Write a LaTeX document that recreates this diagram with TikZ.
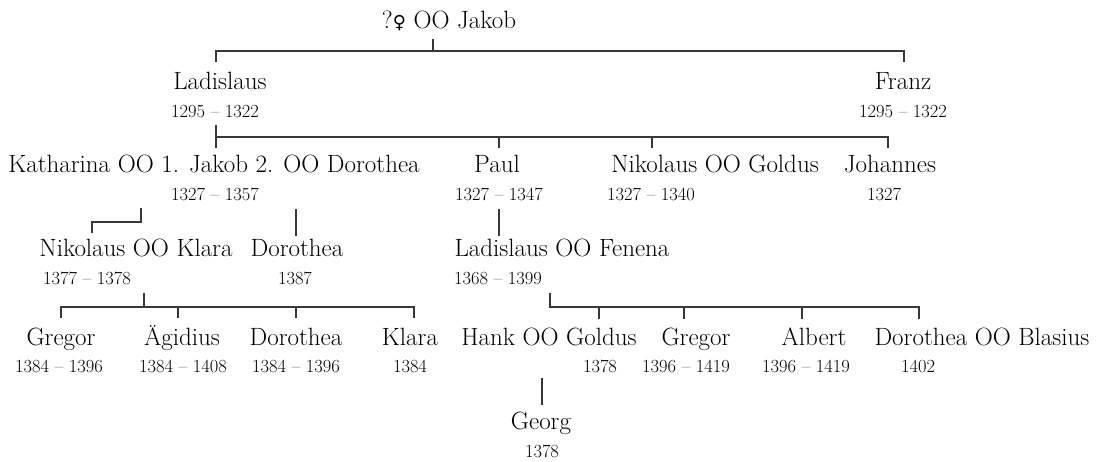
\documentclass[tikz,border=0pt]{standalone}
\usepackage{fontspec}
\newfontfamily\symfont{DejaVu Sans}
\begin{document}
\begin{tikzpicture}[x=1pt,y=-1pt,
  nm/.style={font=\fontsize{25}{28}\selectfont, inner sep=0pt, anchor=base, text=black},
  yr/.style={font=\fontsize{18.5}{21}\selectfont, inner sep=0pt, anchor=base, text=black},
  ln/.style={line width=1.3pt, draw=black!78}]
\useasboundingbox (0,0) rectangle (1100,461);
% ---------- row 0
\node[nm] (jakob0) at (449,28) {?{\symfont\fontsize{18}{22}\selectfont ♀} OO Jakob};
% ---------- row 1
\node[nm] (lad1) at (220,89) {Ladislaus};
\node[yr] (lad1y) at (215,117) {1295 – 1322};
\node[nm] (franz) at (903,89) {Franz};
\node[yr] (franzy) at (903,117) {1295 – 1322};
% ---------- row 2
\node[nm] (kat) at (214,172) {Katharina OO 1. Jakob 2. OO Dorothea};
\node[yr] (katy) at (215,200) {1327 – 1357};
\node[nm] (paul) at (497,172) {Paul};
\node[yr] (pauly) at (499,200) {1327 – 1347};
\node[nm] (nikg) at (715,172) {Nikolaus OO Goldus};
\node[yr] (nikgy) at (651,200) {1327 – 1340};
\node[nm] (joh) at (890,172) {Johannes};
\node[yr] (johy) at (884,200) {1327};
% ---------- row 3
\node[nm] (nikk) at (136,256) {Nikolaus OO Klara};
\node[yr] (nikky) at (87,284) {1377 – 1378};
\node[nm] (dor3) at (297,256) {Dorothea};
\node[yr] (dor3y) at (295,284) {1387};
\node[nm] (ladf) at (562,256) {Ladislaus OO Fenena};
\node[yr] (ladfy) at (498,284) {1368 – 1399};
% ---------- row 4
\node[nm] (greg1) at (61,345) {Gregor};
\node[yr] (greg1y) at (59,372) {1384 – 1396};
\node[nm] (aeg) at (182,345) {Ägidius};
\node[yr] (aegy) at (183,372) {1384 – 1408};
\node[nm] (dor4) at (296,345) {Dorothea};
\node[yr] (dor4y) at (296,372) {1384 – 1396};
\node[nm] (klara) at (410,345) {Klara};
\node[yr] (klaray) at (410,372) {1384};
\node[nm] (hank) at (549,345) {Hank OO Goldus};
\node[yr] (hanky) at (600,372) {1378};
\node[nm] (greg2) at (696,345) {Gregor};
\node[yr] (greg2y) at (686,372) {1396 – 1419};
\node[nm] (alb) at (814,345) {Albert};
\node[yr] (alby) at (806,372) {1396 – 1419};
\node[nm] (dorb) at (982,345) {Dorothea OO Blasius};
\node[yr] (dorby) at (918,372) {1402};
% ---------- row 5
\node[nm] (georg) at (541,429) {Georg};
\node[yr] (georgy) at (542,457) {1378};
% ---------- junction points
\coordinate (j0a) at (433,39);
\coordinate (j0b) at (433,51);
\coordinate (l1t) at (216,62);
\coordinate (f1c) at (904,51);
\coordinate (f1t) at (904,62);
\coordinate (l1a) at (216,125);
\coordinate (l1b) at (216,148);
\coordinate (bar1) at (216,137);
\coordinate (jc) at (888,137);
\coordinate (jt) at (888,148);
\coordinate (pc) at (499,137);
\coordinate (pt) at (499,148);
\coordinate (nc) at (652,137);
\coordinate (nt) at (652,148);
\coordinate (ka) at (141,208);
\coordinate (kc) at (92,222);
\coordinate (kt) at (92,233);
\coordinate (da) at (296,209);
\coordinate (dt) at (296,236);
\coordinate (pa) at (499,209);
\coordinate (pb) at (499,236);
\coordinate (na) at (144,293);
\coordinate (nb) at (144,307);
\coordinate (g1c) at (61,307);
\coordinate (g1t) at (61,318);
\coordinate (aec) at (178,307);
\coordinate (aet) at (178,318);
\coordinate (d4c) at (296,307);
\coordinate (d4t) at (296,318);
\coordinate (klc) at (414,307);
\coordinate (klt) at (414,318);
\coordinate (la) at (550,293);
\coordinate (goc) at (599,307);
\coordinate (got) at (599,319);
\coordinate (g2c) at (684,307);
\coordinate (g2t) at (684,319);
\coordinate (alc) at (802,307);
\coordinate (alt) at (802,319);
\coordinate (dbc) at (919,307);
\coordinate (dbt) at (919,319);
\coordinate (ha) at (542,378);
\coordinate (hb) at (542,405);
% ---------- connectors
\draw[ln] (j0a) -- (j0b);
\draw[ln] (l1t) |- (f1c) -- (f1t);
\draw[ln] (l1a) -- (l1b);
\draw[ln] (bar1) -- (jc) -- (jt);
\draw[ln] (pc) -- (pt);
\draw[ln] (nc) -- (nt);
\draw[ln] (ka) |- (kc) -- (kt);
\draw[ln] (da) -- (dt);
\draw[ln] (pa) -- (pb);
\draw[ln] (na) -- (nb);
\draw[ln] (g1t) |- (klc) -- (klt);
\draw[ln] (aec) -- (aet);
\draw[ln] (d4c) -- (d4t);
\draw[ln] (la) |- (dbc) -- (dbt);
\draw[ln] (goc) -- (got);
\draw[ln] (g2c) -- (g2t);
\draw[ln] (alc) -- (alt);
\draw[ln] (ha) -- (hb);
\end{tikzpicture}
\end{document}
